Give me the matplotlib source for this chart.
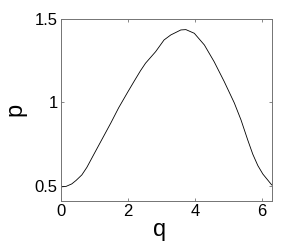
import matplotlib
matplotlib.use('Agg')
import matplotlib.pyplot as plt
import numpy as np

# curve points
q = [0.0, 0.165, 0.335, 0.464, 0.635, 0.784, 1.0, 1.25, 1.5, 1.73, 2.0, 2.2,
     2.38, 2.53, 2.83, 3.08, 3.28, 3.58, 3.73, 3.98, 4.28, 4.57, 4.87, 5.17,
     5.37, 5.57, 5.72, 5.87, 6.02, 6.17, 6.283]
p = [0.494, 0.497, 0.512, 0.533, 0.566, 0.611, 0.692, 0.785, 0.878, 0.968,
     1.062, 1.130, 1.190, 1.235, 1.304, 1.374, 1.404, 1.434, 1.436, 1.414,
     1.344, 1.244, 1.125, 0.997, 0.895, 0.775, 0.690, 0.622, 0.571, 0.534,
     0.506]

xticks = [0, 2, 4, 6]
yticks = [0.5, 1, 1.5]

plt.rcParams['font.family'] = ['Liberation Sans', 'DejaVu Sans']

fig = plt.figure(figsize=(3.0, 2.49), dpi=100, facecolor='w')
ax = fig.add_axes([0.2017, 0.193, 0.704, 0.731])
ax.plot(q, p, color='k', lw=0.6)

ax.set_xlim(0, 2 * np.pi)
ax.set_ylim(0.41, 1.5)
ax.set_xticks(xticks)
ax.set_yticks(yticks)
ax.set_xticklabels([str(v) for v in xticks])
ax.set_yticklabels(['0.5', '1', '1.5'])
ax.tick_params(direction='in', length=2.5, width=0.6, color='0.45',
               labelsize=12, top=True, right=True, pad=2)
for s in ax.spines.values():
    s.set_color('0.45')
    s.set_linewidth(0.7)

ax.set_xlabel('q', fontsize=17)
ax.set_ylabel('p', fontsize=17, labelpad=6)
ax.xaxis.set_label_coords(0.47, -0.10)

fig.savefig('out.png', dpi=100)
